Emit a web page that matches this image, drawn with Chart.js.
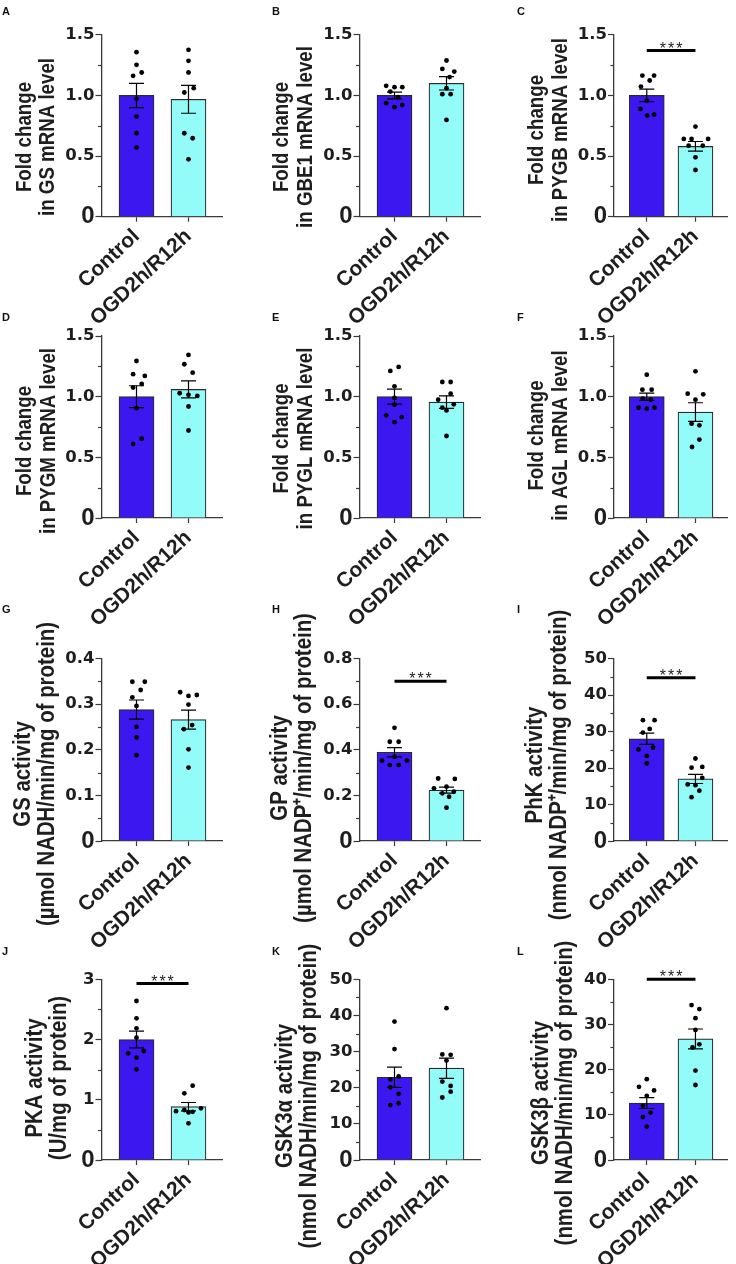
<!DOCTYPE html>
<html>
<head>
<meta charset="utf-8">
<script src="https://cdn.jsdelivr.net/npm/chart.js@4.4.1/dist/chart.umd.min.js"></script>
<style>
  html, body { margin: 0; padding: 0; background: #fff; }
  #wrap { position: relative; width: 736px; height: 1264px; overflow: hidden; }
  #wrap canvas { position: absolute; }
  .tag { position: absolute; font: bold 11px "Liberation Sans", Arial, sans-serif; color: #111; line-height: 1; }
</style>
</head>
<body>
<div id="wrap"></div>
<script>
// 12 panels, two groups each: bars = mean, error = SEM, dots = single samples
const groups = ['Control', 'OGD2h/R12h'];

// A  GS mRNA
const gsMrnaCtrl = [1.357, 1.252, 1.189, 1.162, 0.972, 0.826, 0.688, 0.570];
const gsMrnaOgd  = [1.376, 1.285, 1.189, 1.060, 1.024, 0.688, 0.647, 0.473];
const gsMrnaMean = [1.00, 0.968];
const gsMrnaSem  = [0.10, 0.115];
// B  GBE1 mRNA
const gbe1Ctrl = [1.079, 1.068, 1.068, 1.032, 0.985, 0.936, 0.903, 0.922];
const gbe1Ogd  = [1.288, 1.219, 1.197, 1.151, 1.060, 1.010, 1.010, 0.798];
const gbe1Mean = [1.00, 1.10];
const gbe1Sem  = [0.028, 0.055];
// C  PYGB mRNA
const pygbCtrl = [1.164, 1.164, 1.123, 1.073, 0.958, 0.889, 0.842, 0.834];
const pygbOgd  = [0.743, 0.641, 0.641, 0.641, 0.586, 0.586, 0.490, 0.385];
const pygbMean = [1.00, 0.58];
const pygbSem  = [0.052, 0.04];
// D  PYGM mRNA
const pygmCtrl = [1.294, 1.185, 1.171, 1.105, 1.075, 0.905, 0.653, 0.611];
const pygmOgd  = [1.344, 1.267, 1.198, 1.028, 1.015, 1.006, 0.919, 0.721];
const pygmMean = [1.00, 1.06];
const pygmSem  = [0.09, 0.07];
// E  PYGL mRNA
const pyglCtrl = [1.245, 1.212, 1.085, 0.990, 0.934, 0.846, 0.832, 0.791];
const pyglOgd  = [1.121, 1.121, 1.025, 0.975, 0.937, 0.909, 0.887, 0.676];
const pyglMean = [1.00, 0.955];
const pyglSem  = [0.062, 0.052];
// F  AGL mRNA
const aglCtrl = [1.181, 1.058, 1.058, 0.984, 0.975, 0.909, 0.901, 0.909];
const aglOgd  = [1.209, 1.025, 1.019, 0.975, 0.777, 0.764, 0.646, 0.585];
const aglMean = [1.00, 0.873];
const aglSem  = [0.03, 0.077];
// G  GS activity
const gsActCtrl = [0.349, 0.349, 0.331, 0.315, 0.296, 0.250, 0.227, 0.188];
const gsActOgd  = [0.326, 0.318, 0.320, 0.299, 0.245, 0.254, 0.201, 0.161];
const gsActMean = [0.288, 0.266];
const gsActSem  = [0.021, 0.021];
// H  GP activity
const gpActCtrl = [0.496, 0.435, 0.435, 0.369, 0.352, 0.352, 0.333, 0.333];
const gpActOgd  = [0.274, 0.272, 0.231, 0.238, 0.216, 0.209, 0.194, 0.146];
const gpActMean = [0.389, 0.223];
const gpActSem  = [0.02, 0.013];
// I  PhK activity
const phkCtrl = [33.1, 33.1, 30.7, 29.7, 25.1, 25.6, 23.3, 21.3];
const phkOgd  = [22.6, 20.1, 20.3, 17.3, 15.5, 15.3, 13.8, 12.0];
const phkMean = [28.0, 17.0];
const phkSem  = [1.55, 1.25];
// J  PKA activity
const pkaCtrl = [2.64, 2.352, 2.186, 2.031, 1.810, 1.771, 1.699, 1.505];
const pkaOgd  = [1.234, 1.107, 0.858, 0.830, 0.810, 0.800, 0.790, 0.609];
const pkaMean = [2.00, 0.885];
const pkaSem  = [0.14, 0.07];
// K  GSK3a activity
const gsk3aCtrl = [38.3, 30.7, 23.1, 22.3, 20.1, 18.3, 15.7, 15.2];
const gsk3aOgd  = [42.0, 29.2, 29.1, 27.5, 21.7, 20.5, 18.9, 17.3];
const gsk3aMean = [22.9, 25.4];
const gsk3aSem  = [2.8, 2.8];
// L  GSK3b activity
const gsk3bCtrl = [17.9, 16.2, 15.4, 14.2, 12.0, 10.5, 9.5, 7.4];
const gsk3bOgd  = [34.3, 33.4, 31.4, 28.8, 25.6, 24.9, 19.8, 16.6];
const gsk3bMean = [12.6, 26.8];
const gsk3bSem  = [1.2, 2.2];

// height of the *** bar (data units)
const sigLevels = { C: 1.37, H: 0.70, I: 44.7, J: 2.93, L: 40 };

// sideways spread of the dots (in category units), just so they don't stack
const spread = {
  A: [[0,0,0.1,-0.065,0,0,0,0], [0,0,0,0.1,-0.08,-0.08,0.08,0]],
  B: [[-0.16,0,0.15,-0.08,0.07,-0.16,0,0.15], [0,-0.08,0.15,0.06,0,-0.08,0.08,0]],
  C: [[-0.09,0.15,0.06,-0.12,0,-0.13,0.15,0.01], [0,-0.24,-0.08,0.26,-0.14,0.15,0,0]],
  D: [[0,-0.065,0.16,0.1,-0.065,0,0.1,-0.065], [0,-0.08,0.08,-0.17,0,0.17,0,0]],
  E: [[0.08,-0.08,0,0,0,-0.16,0.14,0], [-0.08,0.08,0.08,-0.16,0.14,-0.08,0,0]],
  F: [[0,-0.09,0.1,-0.08,0.08,-0.17,0,0.16], [0,-0.16,0.16,0,-0.08,0.08,0.08,-0.07]],
  G: [[-0.08,0.16,0.08,-0.08,0,0,0,0], [-0.16,0,0.16,0,-0.09,0.07,0,0]],
  H: [[0,-0.09,0.08,0,-0.24,0.24,-0.09,0.08], [-0.16,0.16,-0.24,0,0.14,-0.08,0.05,0]],
  I: [[-0.08,0.16,0.06,-0.08,-0.17,0.13,0,0], [0,-0.08,0.14,0.14,-0.16,0,0.08,-0.08]],
  J: [[0,0,0,0,0.14,-0.16,0,0], [0.08,-0.08,0.24,-0.08,-0.24,0.08,0,0]],
  K: [[0,0,0.08,-0.08,-0.08,0.08,0.08,-0.08], [0,-0.08,0.08,0,-0.08,0.08,0.08,-0.08]],
  L: [[0,-0.16,0.15,0,-0.08,0.08,-0.08,0], [-0.08,0.08,0,0,0.08,-0.06,0,0]]
};

const panels = [
  { tag:'A', col:0, row:0, title:['Fold change','in GS mRNA level'],   ctrl:gsMrnaCtrl, ogd:gsMrnaOgd, mean:gsMrnaMean, sem:gsMrnaSem, yMax:1.5, major:0.5, minor:0.25, dec:1, tx:24.6, ty:137 },
  { tag:'B', col:1, row:0, title:['Fold change','in GBE1 mRNA level'], ctrl:gbe1Ctrl, ogd:gbe1Ogd, mean:gbe1Mean, sem:gbe1Sem, yMax:1.5, major:0.5, minor:0.25, dec:1, tx:37.3, ty:137 },
  { tag:'C', col:2, row:0, title:['Fold change','in PYGB mRNA level'], ctrl:pygbCtrl, ogd:pygbOgd, mean:pygbMean, sem:pygbSem, yMax:1.5, major:0.5, minor:0.25, dec:1, tx:47, ty:130 },
  { tag:'D', col:0, row:1, title:['Fold change','in PYGM mRNA level'], ctrl:pygmCtrl, ogd:pygmOgd, mean:pygmMean, sem:pygmSem, yMax:1.5, major:0.5, minor:0.25, dec:1, tx:25, ty:441 },
  { tag:'E', col:1, row:1, title:['Fold change','in PYGL mRNA level'], ctrl:pyglCtrl, ogd:pyglOgd, mean:pyglMean, sem:pyglSem, yMax:1.5, major:0.5, minor:0.25, dec:1, tx:37, ty:438.5 },
  { tag:'F', col:2, row:1, title:['Fold change','in AGL mRNA level'],  ctrl:aglCtrl, ogd:aglOgd, mean:aglMean, sem:aglSem, yMax:1.5, major:0.5, minor:0.25, dec:1, tx:47, ty:435.5 },
  { tag:'G', col:0, row:2, title:['GS activity','(µmol NADH/min/mg of protein)'],   ctrl:gsActCtrl, ogd:gsActOgd, mean:gsActMean, sem:gsActSem, yMax:0.4, major:0.1, minor:0.05, dec:1, tx:23, ty:774 },
  { tag:'H', col:1, row:2, title:['GP activity','(µmol NADP\u207A/min/mg of protein)'], ctrl:gpActCtrl, ogd:gpActOgd, mean:gpActMean, sem:gpActSem, yMax:0.8, major:0.2, minor:0.1, dec:1, tx:35, ty:768 },
  { tag:'I', col:2, row:2, title:['PhK activity','(nmol NADP\u207A/min/mg of protein)'], ctrl:phkCtrl, ogd:phkOgd, mean:phkMean, sem:phkSem, yMax:50, major:10, minor:5, dec:0, tx:45, ty:765 },
  { tag:'J', col:0, row:3, title:['PKA activity','(U/mg of protein)'], ctrl:pkaCtrl, ogd:pkaOgd, mean:pkaMean, sem:pkaSem, yMax:3, major:1, minor:0.5, dec:0, tx:35, ty:1078 },
  { tag:'K', col:1, row:3, title:['GSK3\u03B1 activity','(nmol NADH/min/mg of protein)'], ctrl:gsk3aCtrl, ogd:gsk3aOgd, mean:gsk3aMean, sem:gsk3aSem, yMax:50, major:10, minor:5, dec:0, tx:40, ty:1096 },
  { tag:'L', col:2, row:3, title:['GSK3\u03B2 activity','(nmol NADH/min/mg of protein)'], ctrl:gsk3bCtrl, ogd:gsk3bOgd, mean:gsk3bMean, sem:gsk3bSem, yMax:40, major:10, minor:5, dec:0, tx:51, ty:1093 }
];

// ---- page geometry ----
const colLeft = [0, 245, 490];
const axisX = [101.5, 359.5, 614];
const rowTop = [0, 305, 612, 940];
const plotTop = [34.8, 336, 658.5, 979.3];
const plotBottom = [216.7, 518, 841, 1160];
const CW = 246, CH = 350, CTOP = -12, AXIS_LEN = 121;
const xMin = -0.673, xMax = 1.654;

const BLUE = '#3c17ef', CYAN = '#93fbf8', INK = '#1e1e1e', AXIS = '#3a3a3a';
// titles: Arial-like bold squeezed sideways to look like a narrow face
const titleSize = [22, 22, 24, 24];
const titleLH = [23.5, 23.5, 24, 24];
const SQUEEZE = 0.85;
const tickFont = { family: '"DejaVu Sans", sans-serif', size: 16.5, weight: 'bold', lineHeight: 1 };
const zeroFont = { family: '"Liberation Sans", Arial, sans-serif', size: 24, weight: 'bold', lineHeight: 1 };

function isMajor(v, major) {
  const r = v / major;
  return Math.abs(r - Math.round(r)) < 1e-6;
}

// short minor ticks on y axis + rotated two-line y title + significance stars
const extras = {
  id: 'extras',
  afterDraw(chart, args, opts) {
    const ctx = chart.ctx, y = chart.scales.y, x = chart.scales.x;
    const p = opts.panel;
    ctx.save();
    ctx.strokeStyle = AXIS;
    ctx.lineWidth = 1.2;
    y.ticks.forEach(t => {
      if (isMajor(t.value, p.major)) return;
      const py = Math.round(y.getPixelForValue(t.value)) + 0.5;
      ctx.beginPath();
      ctx.moveTo(y.right - 3.5, py);
      ctx.lineTo(y.right, py);
      ctx.stroke();
    });
    // y title (text lives in the scale options)
    const lines = y.options.title.text;
    ctx.translate(p.tx, p.ty - (rowTop[p.row] + CTOP));
    ctx.rotate(-Math.PI / 2);
    ctx.scale(SQUEEZE, 1);
    ctx.font = 'bold ' + titleSize[p.row] + 'px "Liberation Sans", Arial, sans-serif';
    ctx.fillStyle = INK;
    ctx.textAlign = 'center';
    ctx.textBaseline = 'middle';
    lines.forEach((ln, i) => ctx.fillText(ln, 0, i * titleLH[p.row]));
    ctx.restore();

    const lvl = sigLevels[p.tag];
    if (lvl != null) {
      ctx.save();
      const cx = (x.getPixelForValue(0) + x.getPixelForValue(1)) / 2;
      ctx.font = '16px "Liberation Sans", Arial, sans-serif';
      ctx.letterSpacing = '2px';
      ctx.fillStyle = INK;
      ctx.textAlign = 'center';
      ctx.textBaseline = 'alphabetic';
      ctx.fillText('***', cx + 1, y.getPixelForValue(lvl) + 3);
      ctx.restore();
    }
  }
};

const wrap = document.getElementById('wrap');

function buildPanel(p) {
  const left = colLeft[p.col], top = rowTop[p.row] + CTOP;
  const yW = axisX[p.col] - left;
  const padTop = plotTop[p.row] - top;
  const xH = top + CH - plotBottom[p.row];
  const padRight = CW - (yW + AXIS_LEN);

  const cv = document.createElement('canvas');
  cv.width = CW; cv.height = CH;
  cv.style.left = left + 'px'; cv.style.top = top + 'px';
  cv.style.width = CW + 'px'; cv.style.height = CH + 'px';
  wrap.appendChild(cv);

  const tag = document.createElement('div');
  tag.className = 'tag';
  tag.textContent = p.tag;
  tag.style.left = (left + (p.col === 0 ? 2 : 27)) + 'px';
  tag.style.top = (rowTop[p.row] + [6, 7, -8, 6][p.row]) + 'px';
  wrap.appendChild(tag);

  const sp = spread[p.tag];
  const dots = [];
  p.ctrl.forEach((v, i) => dots.push({ x: 0 + sp[0][i], y: v }));
  p.ogd.forEach((v, i) => dots.push({ x: 1 + sp[1][i], y: v }));

  const errSet = (g) => ({
    type: 'line',
    data: [{ x: g, y: p.mean[g] - p.sem[g] }, { x: g, y: p.mean[g] + p.sem[g] }],
    borderColor: '#000', borderWidth: 1.2,
    pointStyle: 'line', pointRadius: 7.5, pointBorderColor: '#000', pointBorderWidth: 1.2,
    order: 2
  });

  const datasets = [
    {
      type: 'bar',
      data: p.mean.map((m, i) => ({ x: i, y: m })),
      backgroundColor: [BLUE, CYAN],
      borderColor: '#2a2a2a', borderWidth: 1.2,
      barThickness: 35,
      order: 5
    },
    errSet(0), errSet(1),
    {
      type: 'scatter',
      data: dots,
      pointRadius: 2.4, pointBackgroundColor: '#000', pointBorderWidth: 0,
      order: 1
    }
  ];
  const lvl = sigLevels[p.tag];
  if (lvl != null) {
    datasets.push({
      type: 'line',
      data: [{ x: 0, y: lvl }, { x: 1, y: lvl }],
      borderColor: '#000', borderWidth: 3, pointRadius: 0,
      clip: false, order: 0
    });
  }

  new Chart(cv, {
    type: 'bar',
    data: { datasets },
    options: {
      responsive: false,
      animation: false,
      events: [],
      layout: { padding: { top: padTop, right: padRight, bottom: 0, left: 0 } },
      plugins: { legend: { display: false }, tooltip: { enabled: false }, extras: { panel: p } },
      scales: {
        x: {
          type: 'linear', min: xMin, max: xMax, offset: false,
          afterFit: s => { s.height = xH; },
          afterBuildTicks: s => { s.ticks = [{ value: 0 }, { value: 1 }]; },
          ticks: {
            callback: v => groups[v],
            minRotation: 43, maxRotation: 43, autoSkip: false,
            color: INK, padding: 4,
            font: { family: '"Liberation Sans", Arial, sans-serif', size: 21, weight: 'bold', lineHeight: 1 }
          },
          grid: { drawOnChartArea: false, offset: false, tickLength: 5, tickColor: AXIS, tickWidth: 1.2 },
          border: { color: AXIS, width: 1.3 }
        },
        y: {
          min: 0, max: p.yMax,
          afterFit: s => { s.width = yW; },
          ticks: {
            stepSize: p.minor, autoSkip: false, color: INK, padding: 1,
            callback: v => isMajor(v, p.major) ? (v === 0 ? '0' : v.toFixed(p.dec)) : '',
            font: c => (c.tick && c.tick.value === 0) ? zeroFont : tickFont
          },
          grid: {
            drawOnChartArea: false, tickLength: 6, tickWidth: 1.2,
            tickColor: c => (c.tick && isMajor(c.tick.value, p.major)) ? AXIS : 'rgba(0,0,0,0)'
          },
          border: { color: AXIS, width: 1.3 },
          title: { display: false, text: p.title }
        }
      }
    },
    plugins: [extras]
  });
}

panels.forEach(buildPanel);
</script>
</body>
</html>
